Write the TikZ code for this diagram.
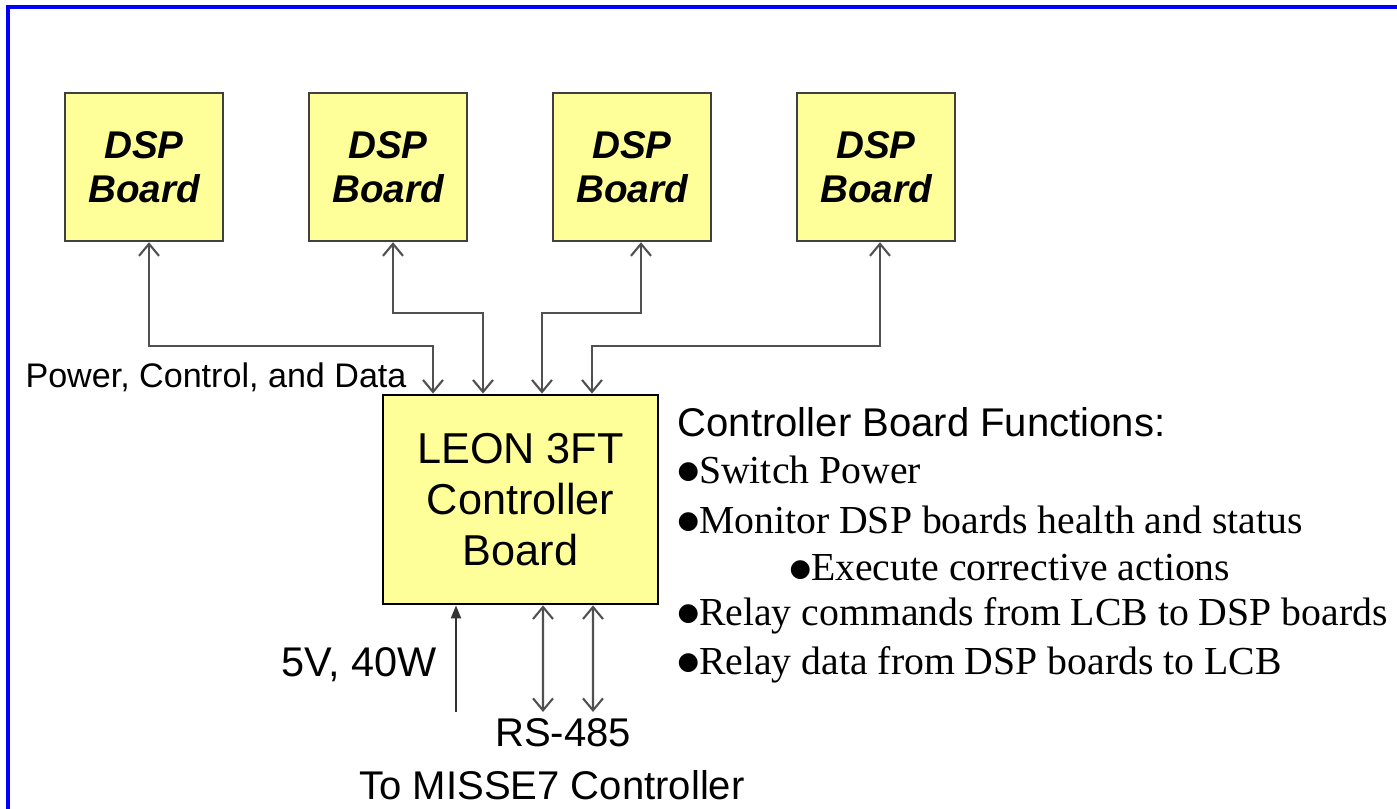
\documentclass[tikz,border=0pt]{standalone}
\usepackage{fontspec}
\setmainfont{Liberation Sans}
\newfontfamily\listfont{Liberation Serif}
\newfontfamily\dotfont{DejaVu Sans}
\usetikzlibrary{arrows.meta}

\definecolor{boardfill}{RGB}{255,255,153}
\definecolor{wire}{RGB}{80,80,80}

\newcommand{\blt}{\raisebox{0.12em}{\dotfont\fontsize{7}{7}\selectfont ●}}

\tikzset{
  dspbox/.style={draw=black!75, line width=0.7pt, fill=boardfill,
    minimum width=1.58cm, minimum height=1.48cm, align=center,
    font=\fontsize{11}{12.4}\selectfont\bfseries\itshape},
  ctrlbox/.style={draw=black, line width=0.8pt, fill=boardfill,
    minimum width=2.75cm, minimum height=2.09cm, align=center,
    font=\fontsize{12.3}{14.6}\selectfont},
  link/.style={wire, line width=0.6pt,
    {Straight Barb[length=0.12cm,width=0.2cm]}-{Straight Barb[length=0.12cm,width=0.2cm]}},
  feed/.style={black!80, line width=0.6pt, -{Triangle[length=0.13cm,width=0.1cm]}},
  label/.style={font=\fontsize{11.4}{13}\selectfont},
  item/.style={anchor=west, font=\fontsize{11.3}{13}\selectfont\listfont, inner sep=0pt}
}

\begin{document}
\begin{tikzpicture}

  \useasboundingbox (0,0) rectangle (13.97,8.09);

  % Frame (only left and top edges visible)
  \draw[blue, line width=0.04cm] (0.08,0) -- (0.08,8.02) -- (13.97,8.02);

  % DSP boards
  \node[dspbox] (dsp1) at (1.44,6.42) {DSP\\Board};
  \node[dspbox] (dsp2) at (3.88,6.42) {DSP\\Board};
  \node[dspbox] (dsp3) at (6.32,6.42) {DSP\\Board};
  \node[dspbox] (dsp4) at (8.76,6.42) {DSP\\Board};

  % Controller board
  \node[ctrlbox] (ctrl) at (5.205,3.095) {LEON 3FT\\Controller\\Board};

  % Links between DSP boards and controller
  \draw[link] ([xshift=0.05cm]dsp1.south) -- ++(0,-1.04) -| ([xshift=-0.875cm]ctrl.north);
  \draw[link] ([xshift=0.05cm]dsp2.south) -- ++(0,-0.71) -| ([xshift=-0.375cm]ctrl.north);
  \draw[link] ([xshift=0.09cm]dsp3.south) -- ++(0,-0.71) -| ([xshift=0.215cm]ctrl.north);
  \draw[link] ([xshift=0.04cm]dsp4.south) -- ++(0,-1.04) -| ([xshift=0.715cm]ctrl.north);

  \node[label, font=\fontsize{9.7}{11}\selectfont] (pcd) at (2.16,4.32) {Power, Control, and Data};

  % Power input and RS-485
  \coordinate (pwr) at (4.56,0.97);
  \coordinate (bus1) at (5.43,0.97);
  \coordinate (bus2) at (5.93,0.97);
  \draw[feed] (pwr) -- ([xshift=-0.645cm]ctrl.south);
  \draw[link] ([xshift=0.225cm]ctrl.south) -- (bus1);
  \draw[link] ([xshift=0.725cm]ctrl.south) -- (bus2);

  \node[label, anchor=east, font=\fontsize{11.8}{13}\selectfont] (volt) at (4.49,1.44) {5V, 40W};
  \node[label] (rs) at (5.63,0.76) {RS-485};
  \node[label] (misse) at (5.52,0.24) {To MISSE7 Controller};

  % Controller functions
  \node[label, anchor=west, inner sep=0pt] (func) at (6.77,3.87) {Controller Board Functions:};
  \node[item] (f1) at (6.77,3.39) {\blt Switch Power};
  \node[item] (f2) at (6.77,2.89) {\blt Monitor DSP boards health and status};
  \node[item] (f3) at (7.89,2.41) {\blt Execute corrective actions};
  \node[item] (f4) at (6.77,1.93) {\blt Relay commands from LCB to DSP boards};
  \node[item] (f5) at (6.77,1.44) {\blt Relay data from DSP boards to LCB};

\end{tikzpicture}
\end{document}
